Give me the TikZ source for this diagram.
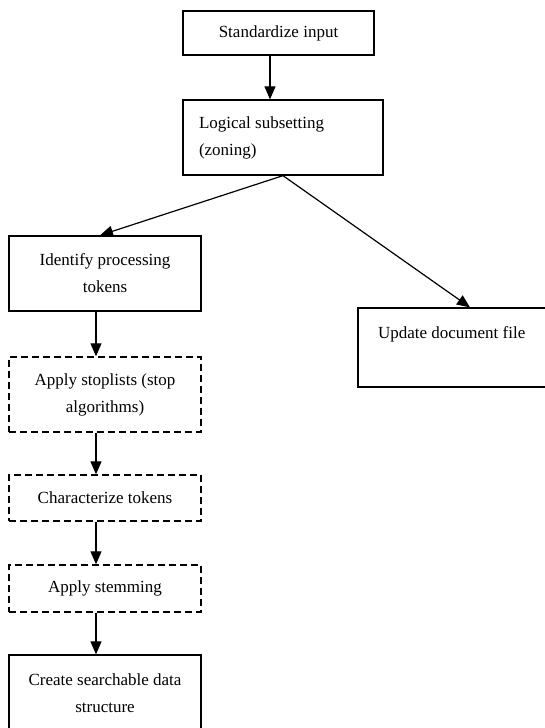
\documentclass[tikz,border=0pt]{standalone}
\usepackage{fontspec}
\setmainfont{Liberation Serif}
\usetikzlibrary{arrows.meta}

\begin{document}
\begin{tikzpicture}[x=1pt,y=-1pt]
\clip (0,0) rectangle (545,728);
\begin{scope}[every node/.style={rectangle,draw=black,line width=1.3pt,inner sep=0pt,
                                 align=center,font=\fontsize{17}{27}\selectfont}]
    \node[minimum width=191pt,minimum height=44pt] (stdin) at (278.5,33) {Standardize input};
    \node[minimum width=200pt,minimum height=75pt,text width=168pt,align=flush left] (logic) at (283,137.5)
        {Logical subsetting\\(zoning)};
    \node[minimum width=192pt,minimum height=75pt] (ident) at (105,273.5) {Identify processing\\tokens};
    \node[minimum width=205pt,minimum height=79pt,text width=165pt,align=flush left,text depth=30pt]
        (update) at (460.5,347.5) {Update document file};
    \node[minimum width=192pt,minimum height=75pt,dash pattern=on 7pt off 4pt] (stop) at (105,394.5)
        {Apply stoplists (stop\\algorithms)};
    \node[minimum width=192pt,minimum height=46pt,dash pattern=on 7pt off 4pt] (charac) at (105,498)
        {Characterize tokens};
    \node[minimum width=192pt,minimum height=47pt,dash pattern=on 7pt off 4pt] (stem) at (105,588.5)
        {Apply stemming};
    \node[minimum width=192pt,minimum height=76pt] (create) at (105,693)
        {Create searchable data\\structure};
\end{scope}

\begin{scope}[>={Triangle[length=13pt,width=11pt]},
              every edge/.style={draw=black,line width=1.2pt}]
    \path [->] ([xshift=-8.5pt]stdin.south) edge ([xshift=-13pt]logic.north);
    \path [->] (logic.south) edge ([xshift=-5pt]ident.north);
    \path [->] (logic.south) edge ([xshift=9.5pt]update.north);
    \path [->] ([xshift=-9pt]ident.south) edge ([xshift=-9pt]stop.north);
    \path [->] ([xshift=-9pt]stop.south) edge ([xshift=-9pt]charac.north);
    \path [->] ([xshift=-9pt]charac.south) edge ([xshift=-9pt]stem.north);
    \path [->] ([xshift=-9pt]stem.south) edge ([xshift=-9pt]create.north);
\end{scope}
\end{tikzpicture}
\end{document}
